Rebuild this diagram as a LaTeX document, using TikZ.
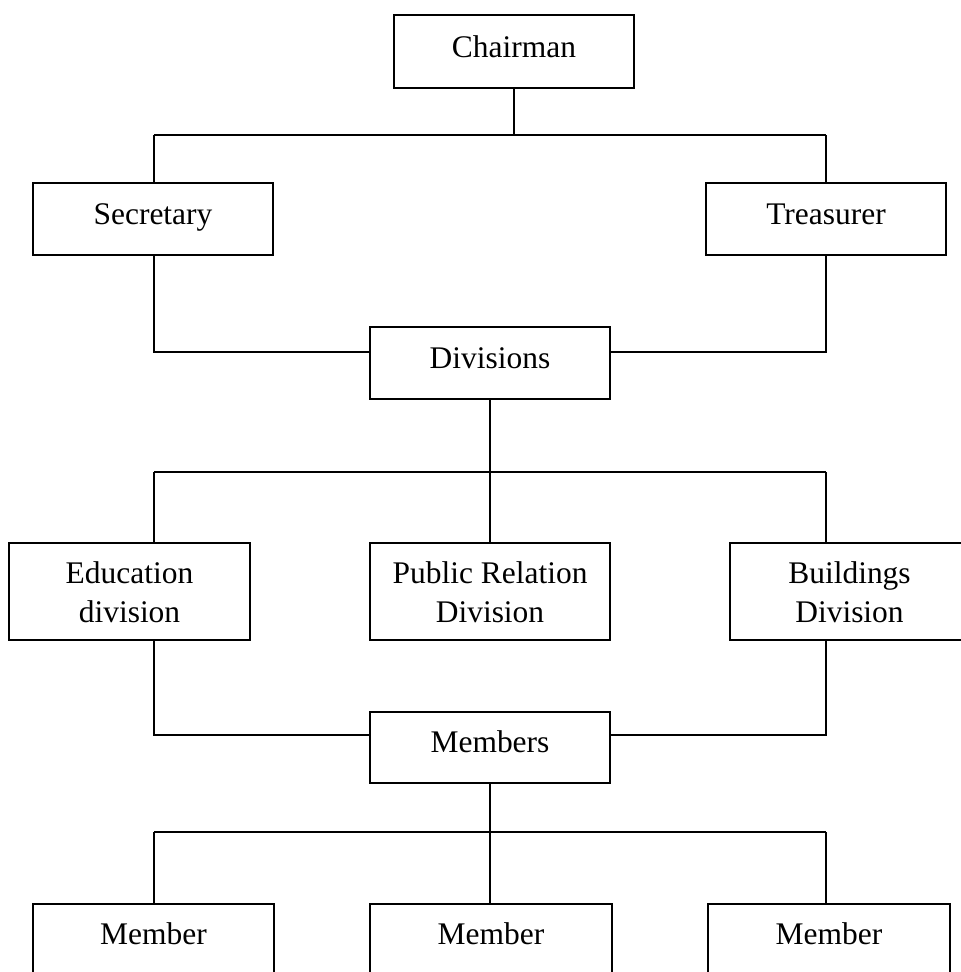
\documentclass[tikz,border=0pt]{standalone}
\usepackage{fontspec}
\setmainfont{Liberation Serif}
\usetikzlibrary{fit}
\begin{document}
\begin{tikzpicture}[x=0.75pt,y=-0.75pt,
  box/.style={draw,line width=1.1pt,rectangle,inner sep=0pt},
  lbl/.style={anchor=base,align=center,inner sep=0pt,font=\fontsize{23.6}{29.25}\selectfont},
  conn/.style={line width=1.1pt}]
\useasboundingbox (0,0) rectangle (961,972);
\clip (0,0) rectangle (961,972);
% boxes
\node[box,fit={(394,15) (634,88)}] (chair) {};
\node[box,fit={(33,183) (273,255)}] (sec) {};
\node[box,fit={(706,183) (946,255)}] (tre) {};
\node[box,fit={(370,327) (610,399)}] (div) {};
\node[box,fit={(9,543) (250,640)}] (edu) {};
\node[box,fit={(370,543) (610,640)}] (pr) {};
\node[box,fit={(730,543) (969,640)}] (bld) {};
\node[box,fit={(370,712) (610,783)}] (mem) {};
\node[box,fit={(33,904) (274,985)}] (m1) {};
\node[box,fit={(370,904) (612,985)}] (m2) {};
\node[box,fit={(708,904) (950,985)}] (m3) {};
% labels
\node[lbl] (chairT) at (514,57) {Chairman};
\node[lbl] (secT) at (153,224) {Secretary};
\node[lbl] (treT) at (826,224) {Treasurer};
\node[lbl] (divT) at (490,368) {Divisions};
\node[lbl] (eduT) at (129.5,622) {Education\\division};
\node[lbl] (prT) at (490,622) {Public Relation\\Division};
\node[lbl] (bldT) at (849.5,622) {Buildings\\Division};
\node[lbl] (memT) at (490,752) {Members};
\node[lbl] (m1T) at (153.5,944) {Member};
\node[lbl] (m2T) at (491,944) {Member};
\node[lbl] (m3T) at (829,944) {Member};
% coordinates
\coordinate (b1L) at (154,135);
\coordinate (b1R) at (826,135);
\coordinate (s1) at (154,352);
\coordinate (t1) at (826,352);
\coordinate (b2L) at (154,472);
\coordinate (b2M) at (490,472);
\coordinate (b2R) at (826,472);
\coordinate (e1) at (154,735);
\coordinate (g1) at (826,735);
\coordinate (b3L) at (154,832);
\coordinate (b3M) at (490,832);
\coordinate (b3R) at (826,832);
% connectors
\draw[conn] (chair.south) -- (chair.south |- b1L);
\draw[conn] (b1L) -- (b1R);
\draw[conn] (b1L) -- (b1L |- sec.north);
\draw[conn] (b1R) -- (b1R |- tre.north);
\draw[conn] (s1 |- sec.south) -- (s1) -- (s1 -| div.west);
\draw[conn] (t1 |- tre.south) -- (t1) -- (t1 -| div.east);
\draw[conn] (div.south) -- (b2M);
\draw[conn] (b2L) -- (b2R);
\draw[conn] (b2L) -- (b2L |- edu.north);
\draw[conn] (b2M) -- (pr.north);
\draw[conn] (b2R) -- (b2R |- bld.north);
\draw[conn] (e1 |- edu.south) -- (e1) -- (e1 -| mem.west);
\draw[conn] (g1 |- bld.south) -- (g1) -- (g1 -| mem.east);
\draw[conn] (mem.south) -- (b3M);
\draw[conn] (b3L) -- (b3R);
\draw[conn] (b3L) -- (b3L |- m1.north);
\draw[conn] (b3M) -- (b3M |- m2.north);
\draw[conn] (b3R) -- (b3R |- m3.north);
\end{tikzpicture}
\end{document}
